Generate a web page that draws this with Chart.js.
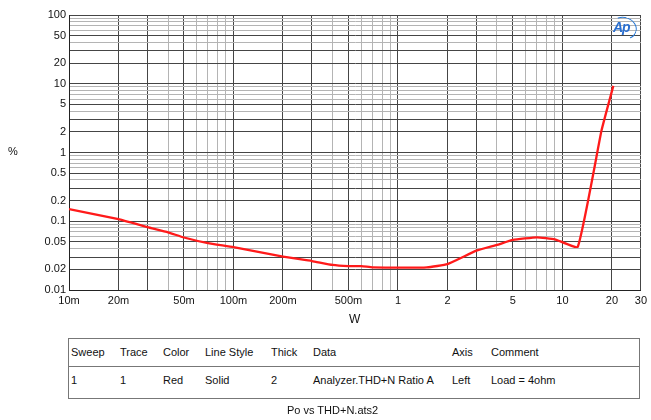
<!DOCTYPE html>
<html><head><meta charset="utf-8">
<script src="https://cdn.jsdelivr.net/npm/chart.js@4"></script>
<style>
html,body{margin:0;padding:0;background:#fff;}
#wrap{position:relative;width:651px;height:420px;font-family:"Liberation Sans",Arial,sans-serif;color:#111;overflow:hidden;}
#c{position:absolute;left:0;top:0;}
.t{position:absolute;font-size:11px;line-height:13px;white-space:nowrap;}
#tbl{position:absolute;left:68px;top:338px;width:572px;height:61px;border:1px solid #777;box-sizing:border-box;}
#div{position:absolute;left:68px;top:366px;width:572px;height:1px;background:#777;}
#logo{position:absolute;left:611px;top:17px;width:26px;height:22px;}
#logo .ring{position:absolute;left:0;top:0;width:24px;height:20px;border:1.5px solid #2a7ad6;border-radius:50%;border-left-color:transparent;border-bottom-color:transparent;transform:rotate(20deg);}
#logo .txt{position:absolute;left:2px;top:2px;font:italic bold 14px "Liberation Sans",Arial,sans-serif;color:#2a6fd0;letter-spacing:-1px;}
</style></head><body>
<div id="wrap">
<canvas id="c" width="651" height="330"></canvas>
<div class="t" style="left:8px;top:145px;">%</div>
<div class="t" style="left:349px;top:313px;font-size:12px;">W</div>
<div id="logo"><div class="ring"></div><div class="txt">Ap</div></div>
<div id="tbl"></div><div id="div"></div>
<div id="cells"></div>
<div class="t" style="left:287px;top:404px;">Po vs THD+N.ats2</div>
</div>
<script>
// ---- data ----
const powerW  = [0.01, 0.02, 0.03, 0.04, 0.05, 0.07, 0.1, 0.2, 0.3, 0.4, 0.5, 0.6, 0.7, 1, 1.5, 2, 3, 4, 5, 7, 9, 12.4, 17.3, 20.4];
const thdnPct = [0.15, 0.107, 0.082, 0.069, 0.058, 0.048, 0.042, 0.0305, 0.0264, 0.0232, 0.0223, 0.0222, 0.0214, 0.0211, 0.0213, 0.0238, 0.0373, 0.0452, 0.0534, 0.0584, 0.0546, 0.0426, 2.1, 9.3];

const xDecades = [0.01, 0.1, 1, 10];
const yDecades = [0.01, 0.1, 1, 10];
const xLabelValues = [0.01, 0.02, 0.05, 0.1, 0.2, 0.5, 1, 2, 5, 10, 20, 30];
const xLabelTexts  = ['10m','20m','50m','100m','200m','500m','1','2','5','10','20','30'];
const yLabelValues = [0.01, 0.02, 0.05, 0.1, 0.2, 0.5, 1, 2, 5, 10, 20, 50, 100];
const yLabelTexts  = ['0.01','0.02','0.05','0.1','0.2','0.5','1','2','5','10','20','50','100'];

const tableHeader = ['Sweep','Trace','Color','Line Style','Thick','Data','Axis','Comment'];
const tableRow    = ['1','1','Red','Solid','2','Analyzer.THD+N Ratio A','Left','Load = 4ohm'];
const colLeft     = [71, 120, 163, 205, 271, 313, 452, 491];

// ---- table cells ----
const cells = document.getElementById('cells');
tableHeader.forEach((h,i)=>{
  const d=document.createElement('div');d.className='t';d.textContent=h;
  d.style.left=colLeft[i]+'px';d.style.top='346px';cells.appendChild(d);
  const r=document.createElement('div');r.className='t';r.textContent=tableRow[i];
  r.style.left=colLeft[i]+'px';r.style.top='374px';cells.appendChild(r);
});

// ---- ticks ----
function buildTicks(decades, maxV){
  const out=[];
  decades.forEach(d=>{for(let m=1;m<=9;m++){const v=+(m*d).toPrecision(6); if(v<=maxV+1e-9) out.push(v);}});
  if(out[out.length-1]<maxV) out.push(maxV);
  return out;
}
const xTicks = buildTicks(xDecades, 30);
const yTicks = buildTicks(yDecades, 100);
function labelFor(v, vals, texts){
  for(let i=0;i<vals.length;i++){ if(Math.abs(vals[i]-v)/vals[i]<1e-6) return texts[i]; }
  return '';
}
function mantissa(v){ return Math.round(v/Math.pow(10,Math.floor(Math.log10(v)+1e-9))); }
function gridColor(ctx){
  if(!ctx.tick) return '#aaa';
  const m=mantissa(ctx.tick.value);
  return (m===1||m===2||m===3||m===5)?'#454545':'#b4b4b4';
}

const pts = powerW.map((x,i)=>({x:x,y:thdnPct[i]}));

new Chart(document.getElementById('c'),{
  type:'line',
  data:{datasets:[{data:pts,borderColor:'#ff1a1a',borderWidth:2.3,pointRadius:0,tension:0.12,fill:false}]},
  options:{
    responsive:false,animation:false,
    layout:{padding:{left:0,right:10,top:15,bottom:0}},
    plugins:{legend:{display:false},tooltip:{enabled:false}},
    scales:{
      x:{type:'logarithmic',min:0.01,max:30,
        afterBuildTicks:s=>{s.ticks=xTicks.map(v=>({value:v}));},
        afterFit:s=>{s.height=40;},
        ticks:{autoSkip:false,maxRotation:0,padding:4,color:'#111',font:{family:'"Liberation Sans", Arial, sans-serif',size:11},
          callback:(v)=>labelFor(v,xLabelValues,xLabelTexts)},
        grid:{color:gridColor,lineWidth:1,drawTicks:false},
        border:{display:true,color:'#222',width:1}
      },
      y:{type:'logarithmic',min:0.01,max:100,
        afterBuildTicks:s=>{s.ticks=yTicks.map(v=>({value:v}));},
        afterFit:s=>{s.width=69;},
        ticks:{autoSkip:false,padding:3,color:'#111',font:{family:'"Liberation Sans", Arial, sans-serif',size:11},
          callback:(v)=>labelFor(v,yLabelValues,yLabelTexts)},
        grid:{color:gridColor,lineWidth:1,drawTicks:false},
        border:{display:true,color:'#222',width:1}
      }
    }
  }
});
</script>
</body></html>
